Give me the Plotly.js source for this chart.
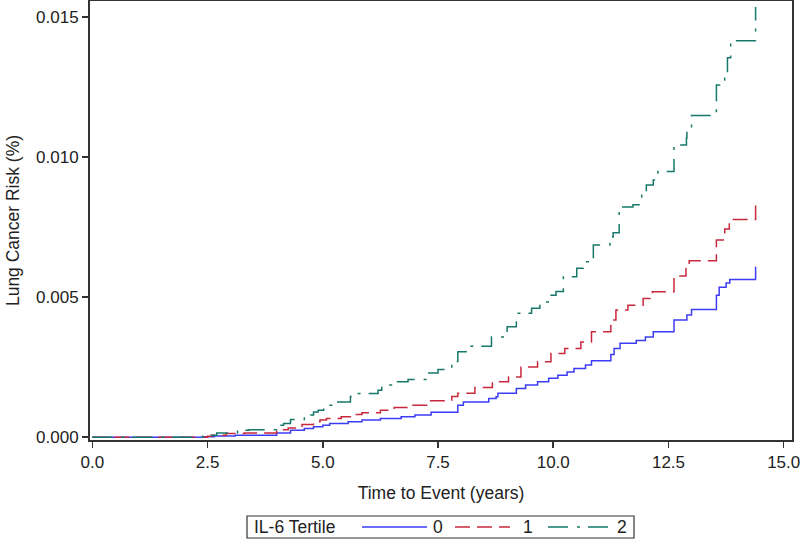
<!DOCTYPE html>
<html>
<head>
<meta charset="utf-8">
<script src="https://cdn.plot.ly/plotly-3.0.1.min.js"></script>
<style>html,body{margin:0;padding:0;background:#fff;}#chart{width:800px;height:540px;}</style>
</head>
<body>
<div id="chart"></div>
<script>
// IL-6 tertile 0
const t0 = [0, 2.4, 2.65, 3.1, 4.0, 4.3, 4.6, 4.8, 5.0, 5.15, 5.55, 5.85, 6.25, 6.7, 7.0, 7.35, 7.93, 8.05, 8.6, 8.76, 8.8, 9.2, 9.4, 9.66, 9.9, 10.1, 10.3, 10.45, 10.7, 10.83, 11.25, 11.32, 11.45, 11.8, 12.0, 12.17, 12.62, 12.9, 13.0, 13.54, 13.6, 13.75, 13.83, 14.39];
const r0 = [0, 0.00002, 0.00004, 0.00007, 0.00015, 0.00025, 0.00031, 0.00037, 0.00043, 0.00049, 0.00055, 0.00061, 0.00067, 0.00073, 0.00079, 0.00089, 0.00114, 0.00126, 0.00138, 0.00144, 0.00157, 0.00174, 0.00186, 0.00198, 0.0021, 0.00221, 0.00233, 0.00245, 0.00258, 0.00273, 0.00295, 0.00317, 0.00335, 0.00345, 0.00358, 0.00376, 0.00418, 0.00436, 0.00456, 0.00507, 0.00535, 0.0055, 0.00563, 0.00608];
// IL-6 tertile 1
const t1 = [0, 2.5, 2.6, 2.9, 3.3, 4.0, 4.25, 4.55, 4.8, 4.94, 5.08, 5.4, 5.6, 5.85, 6.25, 6.55, 6.95, 7.3, 7.8, 7.93, 8.3, 8.68, 9.03, 9.3, 9.66, 9.95, 10.25, 10.6, 10.83, 11.25, 11.36, 11.62, 11.95, 12.15, 12.62, 12.88, 12.95, 13.54, 13.72, 13.82, 14.39];
const r1 = [0, 0.00003, 0.00007, 0.00013, 0.00015, 0.00027, 0.00033, 0.00045, 0.00055, 0.00061, 0.00067, 0.00073, 0.00081, 0.00087, 0.00096, 0.00106, 0.00114, 0.0013, 0.00145, 0.00157, 0.00177, 0.00198, 0.00215, 0.00251, 0.00269, 0.00299, 0.00317, 0.0034, 0.00376, 0.00418, 0.00454, 0.00471, 0.00495, 0.00519, 0.00575, 0.00602, 0.0063, 0.00704, 0.00743, 0.00777, 0.00846];
// IL-6 tertile 2
const t2 = [0, 2.4, 2.5, 2.7, 3.15, 3.4, 4.0, 4.15, 4.3, 4.6, 4.8, 4.9, 5.02, 5.25, 5.6, 5.63, 6.2, 6.28, 6.6, 6.85, 7.3, 7.5, 7.8, 7.93, 8.19, 8.66, 9.0, 9.2, 9.53, 9.71, 9.95, 10.06, 10.22, 10.51, 10.65, 10.87, 11.23, 11.3, 11.43, 11.73, 11.92, 12.02, 12.17, 12.27, 12.62, 12.89, 12.9, 13.0, 13.54, 13.61, 13.72, 13.78, 13.85, 13.95, 14.39];
const r2 = [0, 0.00004, 0.00007, 0.00015, 0.00025, 0.00027, 0.00043, 0.00049, 0.00063, 0.00079, 0.0009, 0.00096, 0.00114, 0.00126, 0.00145, 0.00156, 0.00168, 0.00186, 0.00198, 0.00206, 0.00229, 0.00242, 0.0027, 0.00305, 0.00325, 0.00358, 0.00394, 0.00442, 0.0046, 0.00483, 0.00507, 0.0052, 0.00573, 0.00603, 0.00626, 0.00686, 0.00715, 0.0073, 0.00822, 0.0083, 0.00864, 0.009, 0.00918, 0.00948, 0.01043, 0.01068, 0.01094, 0.01148, 0.01257, 0.01275, 0.013, 0.01354, 0.01407, 0.01415, 0.01536];

const seriesNames = ['0', '1', '2'];
const legendTitle = 'IL-6 Tertile';
const xTicks = [0, 2.5, 5, 7.5, 10, 12.5, 15];
const yTicks = [0, 0.005, 0.010, 0.015];

const FONT = '"Liberation Sans", Arial, Helvetica, sans-serif';
const axisCol = '#333333';
const txtCol = '#222222';
const colors = ['#3c3cf5', '#c8283c', '#17786a'];
const dashes = ['solid', '15px,7px', '20px,9px,3px,8px'];

const xs = [t0, t1, t2], ys = [r0, r1, r2];
const traces = xs.map((x, i) => ({
  x: x, y: ys[i], name: seriesNames[i], mode: 'lines', showlegend: false,
  line: {shape: 'hv', color: colors[i], width: 1.5, dash: dashes[i]}
}));

// Legend drawn in paper coordinates (plot area: px 90..792, py 1..440)
const px = v => (v - 90) / 702;
const py = v => (440 - v) / 439;
const legY = py(527);
const sampleX = [[362, 427], [455, 510], [548, 608]];
const labelX = [438, 528, 622];

const shapes = [
  {type: 'rect', xref: 'paper', yref: 'paper', x0: px(247), x1: px(634), y0: py(538), y1: py(516),
   line: {color: axisCol, width: 1.2}, fillcolor: 'rgba(0,0,0,0)'}
];
const annotations = [
  {xref: 'paper', yref: 'paper', x: px(252), y: legY, xanchor: 'left', yanchor: 'middle', showarrow: false,
   text: legendTitle, font: {size: 17.5, family: FONT, color: txtCol}}
];
seriesNames.forEach((n, i) => {
  shapes.push({type: 'line', xref: 'paper', yref: 'paper', x0: px(sampleX[i][0]), x1: px(sampleX[i][1]), y0: legY, y1: legY,
    line: {color: colors[i], width: 1.5, dash: dashes[i]}});
  annotations.push({xref: 'paper', yref: 'paper', x: px(labelX[i]), y: legY, xanchor: 'center', yanchor: 'middle', showarrow: false,
    text: n, font: {size: 17.5, family: FONT, color: txtCol}});
});

const layout = {
  width: 800, height: 540,
  margin: {l: 90, r: 8, t: 1, b: 100, pad: 0, autoexpand: false},
  paper_bgcolor: '#ffffff', plot_bgcolor: '#ffffff',
  font: {family: FONT, size: 17, color: txtCol},
  showlegend: false,
  xaxis: {
    range: [-0.05, 15.18], tickvals: xTicks, ticktext: xTicks.map(v => v.toFixed(1)),
    showgrid: false, zeroline: false, showline: true, mirror: true,
    linecolor: axisCol, linewidth: 2, ticks: 'outside', ticklen: 6, tickwidth: 1.5, tickcolor: axisCol,
    tickfont: {size: 17, family: FONT, color: txtCol}, ticklabeloverflow: 'allow',
    title: {text: 'Time to Event (years)', font: {size: 17.5, family: FONT, color: txtCol}, standoff: 15},
    automargin: false
  },
  yaxis: {
    range: [-0.0001, 0.01557], tickvals: yTicks, ticktext: yTicks.map(v => v.toFixed(3)),
    showgrid: false, zeroline: false, showline: true, mirror: true,
    linecolor: axisCol, linewidth: 2, ticks: 'outside', ticklen: 6, tickwidth: 1.5, tickcolor: axisCol,
    tickfont: {size: 17, family: FONT, color: txtCol}, ticklabeloverflow: 'allow',
    title: {text: 'Lung Cancer Risk (%)', font: {size: 17.5, family: FONT, color: txtCol}, standoff: 12},
    automargin: false
  },
  shapes: shapes,
  annotations: annotations
};

Plotly.newPlot('chart', traces, layout, {displayModeBar: false, staticPlot: true});
</script>
</body>
</html>
